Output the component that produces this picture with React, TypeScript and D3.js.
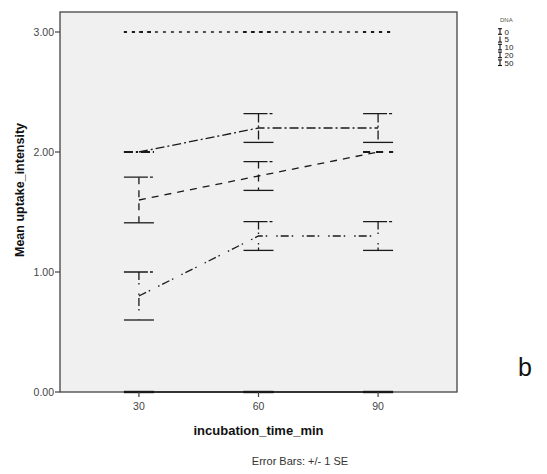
import * as d3 from "d3";
import React from "react";

// values (means and +/- 1 SE)
const timePoints = ["30", "60", "90"];
const dnaLevels = ["0", "5", "10", "20", "50"];
const meanDna0 = [3.0, 3.0, 3.0];
const seDna0 = [0, 0, 0];
const meanDna5 = [2.0, 2.2, 2.2];
const seDna5 = [0, 0.12, 0.12];
const meanDna10 = [1.6, 1.8, 2.0];
const seDna10 = [0.19, 0.12, 0];
const meanDna20 = [0.8, 1.3, 1.3];
const seDna20 = [0.2, 0.12, 0.12];
const meanDna50 = [0, 0, 0];
const seDna50 = [0, 0, 0];
const yTicks = [0, 1, 2, 3];

const series = [
  {dna: dnaLevels[0], mean: meanDna0, se: seDna0, dash: "3,5"},
  {dna: dnaLevels[1], mean: meanDna5, se: seDna5, dash: "9,3,2,3"},
  {dna: dnaLevels[2], mean: meanDna10, se: seDna10, dash: "7,6"},
  {dna: dnaLevels[3], mean: meanDna20, se: seDna20, dash: "8,3,1.5,9,1.5,3"},
  {dna: dnaLevels[4], mean: meanDna50, se: seDna50, dash: null},
];

const font = "Arial, 'Liberation Sans', sans-serif";

const App = () => {
  const width = 547, height = 474;
  const frame = {left: 60, top: 12, right: 457, bottom: 392};

  const x = d3.scalePoint<string>()
    .domain(timePoints)
    .range([frame.left, frame.right])
    .padding(0.66);
  const y = d3.scaleLinear().domain([0, 3]).range([frame.bottom, 32]);

  const line = d3.line<number>()
    .x((d, i) => x(timePoints[i]) as number)
    .y(d => y(d));

  const capW = 15;

  return (
    <svg width={width} height={height}
         style={{position: "absolute", left: 0, top: 0, background: "#fff"}}
         fontFamily={font}>
      {/* plot panel */}
      <rect x={frame.left} y={frame.top}
            width={frame.right - frame.left} height={frame.bottom - frame.top}
            fill="#f0f0f0" stroke="#444" strokeWidth={1.3}/>

      {/* series lines and error bars */}
      {series.map(s => (
        <g key={s.dna} stroke="#1a1a1a" strokeWidth={1.3} fill="none">
          <path d={line(s.mean) || ""} strokeDasharray={s.dash || undefined}/>
          {s.mean.map((m, i) => {
            const cx = x(timePoints[i]) as number;
            const hi = y(m + s.se[i]), lo = y(m - s.se[i]);
            const w = s.se[i] === 0 ? 2.2 : 1.3;
            const capDash = s.se[i] === 0 ? (s.dash || undefined) : "24,2,3,2";
            return (
              <g key={i}>
                <line x1={cx} x2={cx} y1={hi} y2={lo}
                      strokeDasharray={s.dash || undefined}/>
                <line x1={cx - capW} x2={cx + capW} y1={hi} y2={hi}
                      strokeWidth={w} strokeDasharray={capDash}/>
                <line x1={cx - capW} x2={cx + capW} y1={lo} y2={lo}
                      strokeWidth={w} strokeDasharray={s.se[i] === 0 ? capDash : undefined}/>
              </g>
            );
          })}
        </g>
      ))}

      {/* y axis */}
      {yTicks.map(t => (
        <g key={t} transform={`translate(0,${y(t)})`}>
          <line x1={frame.left - 5} x2={frame.left} stroke="#444" strokeWidth={1.2}/>
          <text x={frame.left - 6} dy="0.35em" textAnchor="end" fontSize={10.5}
                fill="#444">{d3.format(".2f")(t)}</text>
        </g>
      ))}
      <text transform={`translate(24,${(frame.top + frame.bottom) / 2 - 12}) rotate(-90)`}
            textAnchor="middle" fontSize={12.5} fontWeight="bold" fill="#111">
        Mean uptake_intensity
      </text>

      {/* x axis */}
      {timePoints.map(t => (
        <g key={t} transform={`translate(${x(t)},${frame.bottom})`}>
          <line y1={0} y2={5} stroke="#444" strokeWidth={1.2}/>
          <text y={18} textAnchor="middle" fontSize={10.5} fill="#444">{t}</text>
        </g>
      ))}
      <text x={(frame.left + frame.right) / 2} y={435} textAnchor="middle"
            fontSize={13} fontWeight="bold" fill="#111">incubation_time_min</text>
      <text x={300} y={465} textAnchor="middle" fontSize={11} fill="#333">
        Error Bars: +/- 1 SE
      </text>

      {/* legend */}
      <text x={500} y={22} fontSize={6} fill="#555">DNA</text>
      {series.map((s, i) => {
        const ly = 31.5 + i * 7.8;
        return (
          <g key={s.dna}>
            <g stroke="#111" strokeWidth={1.1}>
              <line x1={500} x2={500} y1={ly - 2.8} y2={ly + 2.8}/>
              <line x1={498} x2={502} y1={ly + 2.8} y2={ly + 2.8}/>
              {i !== 1 && <line x1={498} x2={502} y1={ly - 2.8} y2={ly - 2.8}/>}
            </g>
            <text x={504.5} y={ly + 3} fontSize={8} fill="#222">{s.dna}</text>
          </g>
        );
      })}

      {/* panel letter */}
      <text x={518} y={376} fontSize={25} fill="#111">b</text>
    </svg>
  );
};

export default App;
